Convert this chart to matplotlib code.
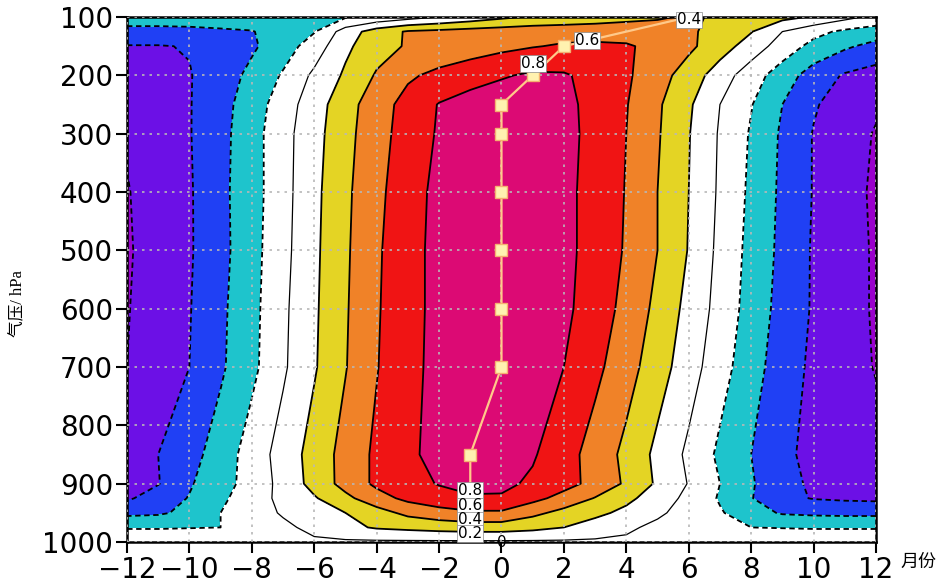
import matplotlib
matplotlib.use("Agg")
import matplotlib.pyplot as plt
import numpy as np

# lag (months) and pressure levels of the correlation field
lags = [-12, -11, -10, -9, -8, -7, -6, -5, -4, -3, -2, -1, 0,
        1, 2, 3, 4, 5, 6, 7, 8, 9, 10, 11, 12]
plev = [1000, 975, 950, 925, 900, 850, 700, 600, 500, 400, 300, 250, 200, 150, 125, 100]

# correlation, one row per level
r1000 = [-0.03, -0.03, -0.03, -0.03, -0.03, -0.03, -0.03, -0.03, -0.03, -0.03, -0.03, -0.03, -0.03,
         -0.03, -0.03, -0.03, -0.03, -0.03, -0.03, -0.03, -0.03, -0.03, -0.03, -0.03, -0.03]
r975 = [-0.22, -0.22, -0.21, -0.20, -0.12, -0.04, 0.05, 0.15, 0.22, 0.25, 0.28, 0.30, 0.30,
        0.26, 0.20, 0.11, 0.03, -0.04, -0.10, -0.15, -0.20, -0.21, -0.22, -0.22, -0.22]
r950 = [-0.45, -0.43, -0.35, -0.20, -0.09, 0.02, 0.11, 0.20, 0.32, 0.45, 0.52, 0.57, 0.57,
        0.45, 0.34, 0.25, 0.15, 0.03, -0.07, -0.18, -0.32, -0.42, -0.44, -0.45, -0.45]
r925 = [-0.63, -0.50, -0.39, -0.24, -0.09, 0.05, 0.18, 0.35, 0.52, 0.65, 0.73, 0.78, 0.78,
        0.66, 0.53, 0.39, 0.25, 0.10, -0.05, -0.22, -0.39, -0.55, -0.61, -0.63, -0.64]
r900 = [-0.70, -0.61, -0.42, -0.28, -0.12, 0.06, 0.27, 0.47, 0.64, 0.74, 0.81, 0.85, 0.84,
        0.77, 0.67, 0.54, 0.37, 0.17, -0.01, -0.20, -0.38, -0.54, -0.63, -0.67, -0.70]
r850 = [-0.72, -0.60, -0.47, -0.31, -0.11, 0.08, 0.28, 0.47, 0.64, 0.77, 0.85, 0.89, 0.88,
        0.82, 0.68, 0.52, 0.35, 0.15, -0.04, -0.24, -0.40, -0.56, -0.65, -0.70, -0.74]
r700 = [-0.80, -0.70, -0.60, -0.43, -0.25, -0.03, 0.18, 0.39, 0.59, 0.75, 0.85, 0.92, 0.92,
        0.87, 0.80, 0.65, 0.48, 0.29, 0.09, -0.12, -0.32, -0.50, -0.64, -0.73, -0.81]
r600 = [-0.81, -0.71, -0.61, -0.44, -0.26, -0.04, 0.17, 0.38, 0.58, 0.74, 0.85, 0.93, 0.95,
        0.91, 0.84, 0.71, 0.54, 0.35, 0.14, -0.07, -0.28, -0.47, -0.62, -0.73, -0.82]
r500 = [-0.82, -0.72, -0.62, -0.46, -0.27, -0.06, 0.16, 0.37, 0.57, 0.74, 0.85, 0.93, 0.96,
        0.93, 0.85, 0.73, 0.58, 0.40, 0.19, -0.05, -0.26, -0.45, -0.62, -0.73, -0.82]
r400 = [-0.81, -0.72, -0.62, -0.45, -0.28, -0.07, 0.15, 0.36, 0.55, 0.72, 0.85, 0.92, 0.95,
        0.92, 0.85, 0.73, 0.59, 0.40, 0.20, -0.03, -0.24, -0.44, -0.61, -0.73, -0.83]
r300 = [-0.78, -0.69, -0.61, -0.46, -0.28, -0.07, 0.13, 0.34, 0.52, 0.69, 0.82, 0.91, 0.95,
        0.93, 0.86, 0.74, 0.60, 0.42, 0.21, -0.02, -0.22, -0.43, -0.61, -0.74, -0.81]
r250 = [-0.74, -0.68, -0.61, -0.47, -0.30, -0.10, 0.11, 0.32, 0.51, 0.67, 0.81, 0.88, 0.92,
        0.91, 0.85, 0.74, 0.61, 0.43, 0.23, 0.00, -0.19, -0.40, -0.58, -0.69, -0.78]
r200 = [-0.70, -0.66, -0.61, -0.50, -0.35, -0.18, 0.04, 0.23, 0.42, 0.57, 0.65, 0.72, 0.78,
        0.83, 0.82, 0.74, 0.63, 0.48, 0.31, 0.10, -0.11, -0.30, -0.49, -0.62, -0.68]
r150 = [-0.61, -0.61, -0.59, -0.51, -0.43, -0.29, -0.11, 0.16, 0.32, 0.42, 0.46, 0.50, 0.55,
        0.59, 0.62, 0.63, 0.62, 0.55, 0.44, 0.29, 0.11, -0.09, -0.26, -0.37, -0.46]
r125 = [-0.46, -0.46, -0.45, -0.43, -0.41, -0.31, -0.21, 0.09, 0.30, 0.42, 0.45, 0.48, 0.50,
        0.52, 0.53, 0.53, 0.52, 0.48, 0.43, 0.33, 0.21, 0.00, -0.14, -0.24, -0.30]
r100 = [-0.30, -0.30, -0.30, -0.29, -0.28, -0.26, -0.24, -0.22, -0.16, -0.08, 0.00, 0.08, 0.16,
        0.22, 0.25, 0.29, 0.34, 0.38, 0.42, 0.38, 0.32, 0.26, 0.18, 0.06, -0.05]

# lag of the maximum correlation at each level
peak_lev = [1000, 925, 850, 700, 600, 500, 400, 300, 250, 200, 150, 100]
peak_lag = [-1, -1, -1, 0, 0, 0, 0, 0, 0, 1, 2, 6]

shade_levels = [-1.0, -0.8, -0.6, -0.4, -0.2, 0.2, 0.4, 0.6, 0.8, 1.0]
shade_colors = ["#9a00cc", "#6c10e6", "#2040f4", "#1ec4cc", "#ffffff",
                "#e4d424", "#f08228", "#f01414", "#dc0a74"]
line_levels = [-0.8, -0.6, -0.4, -0.2, 0.0, 0.2, 0.4, 0.6, 0.8]

corr = np.array([r1000, r975, r950, r925, r900, r850, r700, r600,
                 r500, r400, r300, r250, r200, r150, r125, r100])

fig = plt.figure(figsize=(9.4, 5.83), dpi=100)
ax = fig.add_axes([0.1351, 0.0703, 0.7968, 0.9005])

ax.contourf(lags, plev, corr, levels=shade_levels, colors=shade_colors)
styles = ["solid" if v >= 0 else (0, (3, 2)) for v in line_levels]
widths = [0.9 if v == 0 else 1.3 for v in line_levels]
ax.contour(lags, plev, corr, levels=line_levels, colors="black",
           linestyles=styles, linewidths=widths)

ax.grid(True, linestyle=(0, (1.5, 3)), color="#b8b8b8", linewidth=1.2)
ax.set_axisbelow(False)

ax.plot(peak_lag, peak_lev, color="#ffc98a", linewidth=1.6, zorder=5)
ax.plot(peak_lag[2:-1], peak_lev[2:-1], linestyle="none", marker="s", markersize=8,
        markerfacecolor="#fff2b0", markeredgecolor="#f5b070", zorder=6)

# contour labels (GrADS style, boxed)
box = dict(facecolor="white", edgecolor="#888888", linewidth=0.5, pad=0.6)
bottom_labels = [(0.8, 912), (0.6, 938), (0.4, 962), (0.2, 985)]
for val, p in bottom_labels:
    ax.text(-1, p, f"{val:g}", fontsize=11, ha="center", va="center", bbox=box, zorder=7)
ax.text(0, 1000, "0", fontsize=11, ha="center", va="center", zorder=7)
top_labels = [(0.8, 1.0, 180), (0.6, 2.75, 140), (0.4, 6.0, 105)]
for val, x, p in top_labels:
    ax.text(x, p, f"{val:g}", fontsize=11, ha="center", va="center", bbox=box, zorder=7)

ax.set_xlim(-12, 12)
ax.set_ylim(1000, 100)
ax.set_xticks(range(-12, 13, 2))
ax.set_yticks(range(100, 1001, 100))
ax.tick_params(axis="both", labelsize=20, length=8, width=1.5, direction="out", pad=2)
for s in ax.spines.values():
    s.set_linewidth(1.8)

fig.text(0.019, 0.48, "气压/ hPa", rotation=90, ha="center", va="center", fontsize=12,
         family=["Liberation Serif", "Noto Sans CJK SC"])
fig.text(0.977, 0.036, "月份", ha="center", va="center", fontsize=13,
         family=["Noto Sans CJK SC", "DejaVu Sans"])

fig.savefig("out.png", dpi=100)
